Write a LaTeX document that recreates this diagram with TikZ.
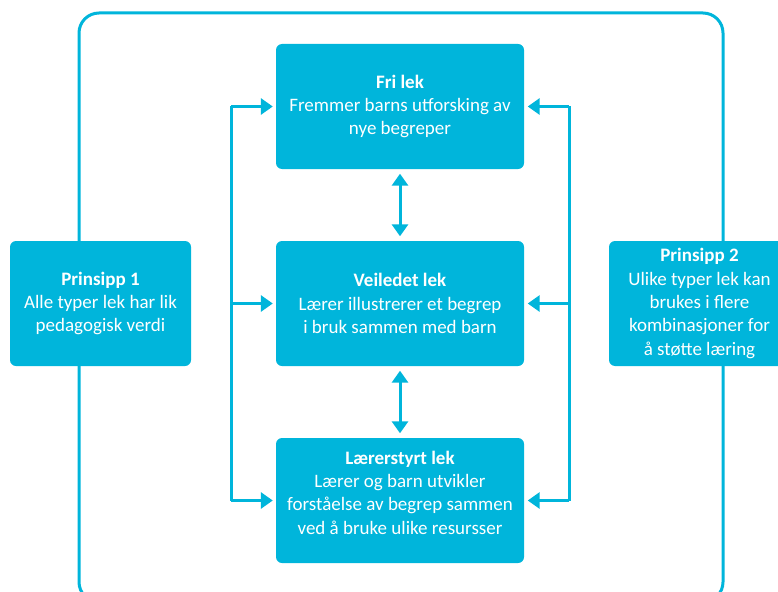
\documentclass[tikz,border=0pt]{standalone}
\usepackage{fontspec}
\setmainfont{Carlito}
\usetikzlibrary{arrows.meta}
\definecolor{kblue}{RGB}{0,181,219}
\tikzset{
  box/.style={fill=kblue, rounded corners=6pt, inner sep=0pt, text=white, align=center,
    font={\fontsize{19}{23.3}\selectfont}},
  midbox/.style={box, minimum width=248pt, minimum height=125pt},
  sidebox/.style={box, minimum width=181pt, minimum height=125pt},
  txt/.style={text=white, align=center, inner sep=0pt, font={\fontsize{19}{23.3}\selectfont}},
  conn/.style={draw=kblue, line width=3pt},
  arr/.style={conn, -{Triangle[length=12pt,width=16pt]}},
  darr/.style={conn, {Triangle[length=12pt,width=16pt]}-{Triangle[length=12pt,width=16pt]}},
  frame/.style={draw=kblue, line width=3pt, rounded corners=20pt}
}
\begin{document}
\begin{tikzpicture}[x=1pt,y=-1pt]
\useasboundingbox (0,0) rectangle (778,591);
\clip (0,0) rectangle (778,591);
% outer frame
\draw[frame] (79,13) rectangle (723,602);
% boxes
\node[midbox] (f) at (400,106.5) {\textbf{Fri lek}\\Fremmer barns utforsking av\\nye begreper};
\node[midbox] (v) at (400,303.5) {\textbf{Veiledet lek}\\Lærer illustrerer et begrep\\i bruk sammen med barn};
\node[midbox] (l) at (400,500.5) {};
\node[txt] (lt) at (400,492.6) {\textbf{Lærerstyrt lek}\\Lærer og barn utvikler\\forståelse av begrep sammen\\ved å bruke ulike resursser};
\node[sidebox] (p1) at (100.5,303.5) {\textbf{Prinsipp 1}\\Alle typer lek har lik\\pedagogisk verdi};
\node[sidebox] (p2) at (699.5,303.5) {\textbf{Prinsipp 2}\\Ulike typer lek kan\\brukes i flere\\kombinasjoner for\\å støtte læring};
% left bracket
\coordinate (la) at (231,106.5);
\coordinate (lb) at (231,303.5);
\coordinate (lc) at (231,500.5);
\draw[conn] (la) -- (lc);
\draw[arr, shorten >=3pt] (la) -- (f.west);
\draw[arr, shorten >=3pt] (lb) -- (v.west);
\draw[arr, shorten >=3pt] (lc) -- (l.west);
% right bracket
\coordinate (ra) at (569,106.5);
\coordinate (rb) at (569,303.5);
\coordinate (rc) at (569,500.5);
\draw[conn] (ra) -- (rc);
\draw[arr, shorten >=3.5pt] (ra) -- (f.east);
\draw[arr, shorten >=3.5pt] (rb) -- (v.east);
\draw[arr, shorten >=3.5pt] (rc) -- (l.east);
% vertical double arrows
\draw[darr, shorten <=4.5pt, shorten >=4.5pt] (f.south) -- (v.north);
\draw[darr, shorten <=4.5pt, shorten >=4.5pt] (v.south) -- (l.north);
\end{tikzpicture}
\end{document}
